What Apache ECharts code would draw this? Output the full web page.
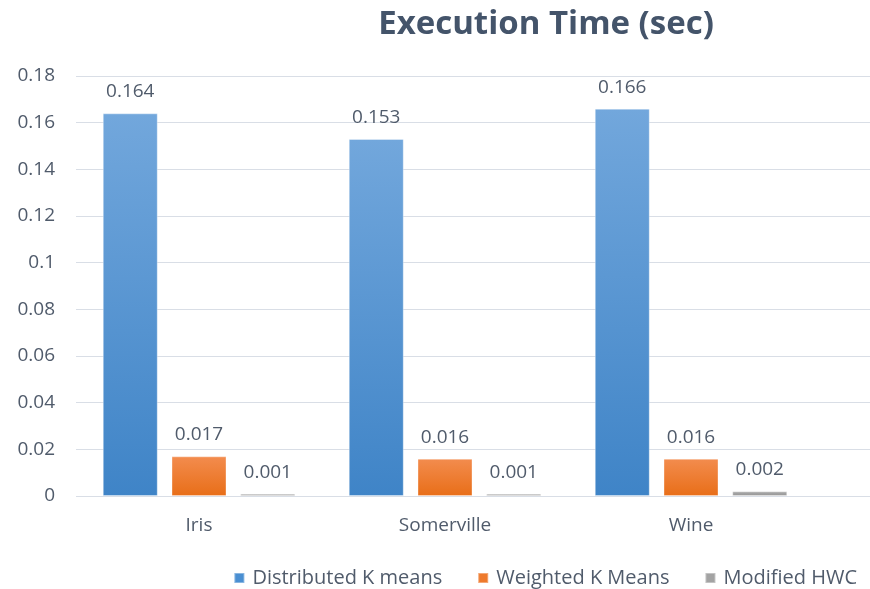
<!DOCTYPE html>
<html>
<head>
<meta charset="utf-8">
<script src="https://cdn.jsdelivr.net/npm/echarts@6/dist/echarts.min.js"></script>
<style>
html,body{margin:0;padding:0;background:#fff;}
#chart{width:870px;height:589px;}
</style>
</head>
<body>
<div id="chart"></div>
<script>
var categories = ['Iris', 'Somerville', 'Wine'];
var seriesNames = ['Distributed K means', 'Weighted K Means', 'Modified HWC'];
var distributedKMeans = [0.164, 0.153, 0.166];
var weightedKMeans = [0.017, 0.016, 0.016];
var modifiedHWC = [0.001, 0.001, 0.002];
var yTickLabels = ['0', '0.02', '0.04', '0.06', '0.08', '0.1', '0.12', '0.14', '0.16', '0.18'];

var FONT = '"Open Sans"';
var TXT = '#505b6b';

function grad(top, bottom) {
  return new echarts.graphic.LinearGradient(0, 0, 0, 1, [
    {offset: 0, color: top}, {offset: 1, color: bottom}
  ]);
}
var colors = [
  grad('#72a7dc', '#3f84c7'),
  grad('#f38c4e', '#e86e18'),
  grad('#acacac', '#959595')
];
var legendColors = ['#4a8fd2', '#ee7a2c', '#a3a3a3'];

function fmtTick(v) {
  var idx = Math.round(v / 0.02);
  return yTickLabels[idx] !== undefined ? yTickLabels[idx] : '';
}

var chart = echarts.init(document.getElementById('chart'), null, {renderer: 'canvas'});

var dataSets = [distributedKMeans, weightedKMeans, modifiedHWC];
var series = dataSets.map(function (d, i) {
  return {
    name: seriesNames[i],
    type: 'bar',
    xAxisIndex: 1,
    yAxisIndex: 1,
    data: d,
    barWidth: 55,
    barGap: '25%',
    itemStyle: {color: colors[i], borderColor: 'rgba(255,255,255,0.35)', borderWidth: 1},
    label: {
      show: true,
      position: 'top',
      distance: 12,
      color: TXT,
      fontFamily: FONT,
      fontSize: 19,
      formatter: function (p) { return String(p.value); }
    }
  };
});

chart.setOption({
  animation: false,
  color: legendColors,
  title: {
    text: 'Execution Time (sec)',
    left: 541,
    textAlign: 'center',
    top: 3,
    textStyle: {fontFamily: FONT, fontWeight: 'bold', fontSize: 33, color: '#44546a'}
  },
  legend: {
    data: seriesNames.map(function (n, i) { return {name: n, itemStyle: {color: legendColors[i]}}; }),
    right: 13,
    top: 568,
    padding: 0,
    itemWidth: 10,
    itemHeight: 10,
    itemGap: 35,
    icon: 'rect',
    textStyle: {fontFamily: FONT, fontSize: 20, color: TXT, padding: [0, 0, 0, 3]}
  },
  grid: [
    {left: 76, right: 0, top: 76, bottom: 93},
    {left: 76, width: 738, top: 76, bottom: 93}
  ],
  xAxis: [
    {type: 'category', gridIndex: 0, data: [], show: false},
    {
      type: 'category', gridIndex: 1, data: categories,
      axisLine: {show: false},
      axisTick: {show: false},
      axisLabel: {color: TXT, fontFamily: FONT, fontSize: 19, margin: 20}
    }
  ],
  yAxis: [
    {
      type: 'value', gridIndex: 0, min: 0, max: 0.18, interval: 0.02,
      axisLine: {show: false}, axisTick: {show: false},
      splitLine: {lineStyle: {color: '#d9dee6', width: 1}},
      axisLabel: {color: TXT, fontFamily: FONT, fontSize: 19, margin: 21, formatter: fmtTick}
    },
    {
      type: 'value', gridIndex: 1, min: 0, max: 0.18, interval: 0.02,
      axisLine: {show: false}, axisTick: {show: false},
      splitLine: {show: false}, axisLabel: {show: false}
    }
  ],
  series: series
});
</script>
</body>
</html>
